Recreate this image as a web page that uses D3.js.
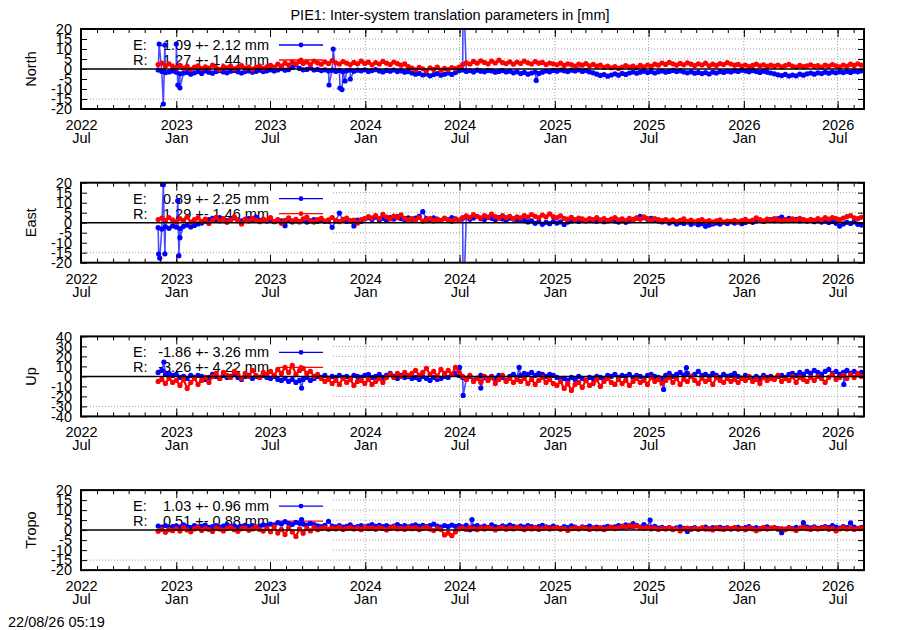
<!DOCTYPE html>
<html>
<head>
<meta charset="utf-8">
<script src="https://cdn.jsdelivr.net/npm/d3@7"></script>
<style>
body { margin: 0; background: #fff; }
svg { font-family: "Liberation Sans", Arial, sans-serif; font-size: 14.5px; }
</style>
</head>
<body>
<div id="chart"></div>
<script>
// weekly samples starting on this day
var weekStart = '2022-11-27';

var panelNames = ['North', 'East', 'Up', 'Tropo'];
var yLimits = [20, 20, 40, 20];
var yStep = [5, 5, 10, 5];

// legend statistics
var eMean = [-1.09, 0.89, -1.86, 1.03];
var eStd = [2.12, 2.25, 3.26, 0.96];
var rMean = [1.27, 1.29, -3.26, 0.51];
var rStd = [1.44, 1.46, 4.22, 0.88];

var northE = [-0.5,-1.2,-1.8,-1.5,-1.0,-1.6,-2.4,-2.0,-1.7,-2.6,
-1.9,-1.3,-2.2,-1.0,-1.6,-2.1,-1.2,-0.8,-1.5,-1.9,
-1.1,-0.7,-1.4,-2.0,-1.3,-0.9,-1.6,-1.2,-0.6,-1.3,
-0.9,-0.4,-1.0,-0.5,0.2,-0.6,-0.3,0.8,2.0,0.3,
-0.4,-0.2,0.4,-0.5,-0.2,-0.8,-0.4,-1.0,-0.6,-1.2,
-0.7,-1.4,-0.9,-0.5,-1.1,-0.6,-0.9,-0.4,-1.2,-0.8,
-0.3,-1.0,-1.5,-0.7,-1.1,-0.5,-1.3,-0.9,-1.6,-1.2,
-2.0,-2.6,-2.2,-3.0,-2.5,-3.4,-2.8,-2.3,-3.1,-2.6,
-2.0,-2.7,-1.8,-0.9,-0.5,-1.2,-0.8,-1.5,-0.6,-1.1,
-1.4,-0.7,-1.0,-1.6,-1.2,-0.8,-1.5,-1.1,-1.9,-1.4,
-2.3,-1.7,-2.6,-2.0,-1.5,-2.2,-1.6,-1.0,-1.4,-0.7,
-1.1,-0.5,-0.9,-1.3,-0.6,-1.0,-0.4,-1.2,-0.8,-1.5,
-1.9,-2.6,-3.2,-2.8,-3.6,-3.0,-2.4,-3.1,-2.2,-2.7,
-2.0,-1.5,-2.1,-1.6,-1.1,-1.8,-1.3,-2.0,-1.4,-1.0,
-1.6,-1.2,-0.7,-1.3,-0.9,-1.5,-1.9,-1.4,-2.1,-1.7,
-2.3,-1.8,-2.5,-1.6,-2.0,-1.3,-1.7,-1.1,-1.5,-0.9,
-1.2,-0.6,-1.0,-1.4,-0.8,-1.3,-1.7,-1.1,-1.6,-2.0,
-2.4,-2.9,-3.3,-2.7,-3.5,-3.0,-3.4,-2.6,-3.1,-2.4,
-2.0,-2.6,-1.9,-2.3,-1.6,-2.1,-1.5,-1.9,-1.4,-1.8,
-1.3,-1.7,-1.1,-1.4,-1.0];

var northR = [2.2,3.0,1.5,2.6,1.2,0.6,1.8,0.4,1.3,-0.2,
0.9,1.6,0.2,1.1,0.5,1.9,0.7,-0.3,1.2,0.6,
1.5,0.1,0.9,1.7,0.4,1.0,-0.1,0.8,1.4,0.3,
1.1,1.8,1.0,2.4,1.5,2.9,2.0,3.4,2.6,3.8,
2.8,3.5,2.2,3.9,3.0,2.4,3.6,2.7,4.2,3.1,
2.5,3.7,2.9,2.2,3.3,2.6,3.9,2.8,3.4,2.1,
3.2,2.5,3.8,2.9,2.2,3.5,2.7,1.9,2.6,1.2,
0.5,-0.4,0.8,0.1,-0.9,0.6,-0.2,0.9,-0.6,0.3,
-0.3,0.7,0.2,1.0,2.2,3.1,2.5,3.8,2.9,4.1,
3.3,2.6,3.9,3.0,4.4,3.2,2.7,3.6,2.4,3.5,
2.8,3.9,3.1,2.5,3.7,2.9,3.3,2.2,3.0,2.6,
2.1,2.9,1.8,2.6,2.2,1.5,2.4,1.9,2.7,1.6,
2.3,1.4,1.9,0.8,1.5,0.6,1.2,0.3,1.0,1.7,
0.9,1.4,0.7,1.8,1.1,2.0,1.3,2.4,1.9,3.0,
2.3,3.3,2.6,1.9,2.8,2.1,3.1,2.4,1.7,2.6,
2.0,2.9,1.6,2.4,1.8,2.7,2.2,3.2,2.5,1.9,
2.3,1.5,2.0,1.2,1.8,2.4,1.6,2.1,1.3,1.9,
1.4,2.0,1.1,1.7,2.3,1.5,1.0,1.8,1.2,1.6,
2.1,1.3,1.7,1.0,1.9,1.4,2.2,1.6,1.1,2.0,
1.5,2.4,1.8,2.6,1.9];

var eastE = [-2.5,-3.2,-2.0,-2.8,-1.6,-2.2,-2.9,-1.8,-1.2,-2.1,
-1.4,-0.6,-0.2,0.8,1.5,2.2,1.4,2.6,1.9,1.1,
1.8,2.4,1.3,0.9,1.7,2.1,1.5,2.8,1.2,1.6,
0.8,1.3,0.5,1.1,0.9,-1.5,1.4,0.4,1.0,0.6,
1.2,0.3,0.9,1.5,0.7,1.1,0.6,0.8,-2.3,0.9,
4.8,1.2,0.6,0.9,-1.6,1.3,0.7,1.9,2.5,1.6,
2.8,1.4,2.2,1.1,2.6,1.8,3.0,2.0,1.5,2.4,
1.7,2.3,3.2,5.5,2.0,1.5,2.4,1.8,1.2,2.1,
1.6,2.5,1.9,1.3,2.2,2.9,1.7,2.4,3.1,2.0,
1.6,2.7,2.2,1.5,2.5,1.9,1.4,2.3,1.8,1.2,
1.7,1.0,0.4,0.9,-0.3,0.5,-0.8,0.2,-0.5,0.6,
-0.2,0.4,-0.9,0.3,0.8,1.2,0.6,1.4,0.9,1.5,
1.0,0.7,1.3,0.5,1.1,1.6,0.8,0.3,1.0,0.2,
0.9,1.4,2.3,3.2,2.5,1.7,2.2,1.3,0.8,0.4,
0.9,-0.2,0.5,-0.6,0.1,-0.4,0.3,-0.8,-0.2,-1.0,
-0.5,-1.8,-1.2,-0.6,-0.1,-0.7,0.2,-0.4,0.5,-0.2,
0.3,-0.5,0.1,0.7,0.2,0.8,1.3,0.6,1.1,1.6,
1.0,2.0,2.8,1.5,2.2,1.2,1.7,0.9,1.4,0.8,
1.2,0.5,1.0,0.3,0.8,0.1,0.6,-0.3,-1.7,-0.6,
0.2,-0.4,0.4,-0.8,-1.2];

var eastR = [1.6,2.3,0.9,2.6,1.2,0.4,2.0,1.1,2.8,0.3,
1.5,2.4,0.7,1.8,-0.4,1.3,2.7,0.8,1.9,0.2,
1.4,2.9,1.0,-0.6,1.7,0.9,2.2,1.3,0.5,1.8,
1.1,2.5,0.6,1.6,-0.3,1.2,2.4,0.9,1.7,0.4,
1.9,2.8,1.0,0.3,1.5,2.2,0.8,1.4,2.6,1.1,
0.5,1.7,2.3,0.9,1.3,-0.2,1.6,2.1,3.0,2.4,
3.6,2.1,4.2,2.8,1.9,3.3,2.5,3.9,2.2,1.6,
2.0,1.2,2.6,0.8,1.5,2.1,0.9,1.7,1.1,2.3,
1.4,0.7,1.8,1.2,2.5,3.4,2.7,4.0,3.1,2.4,
3.5,2.8,4.3,3.0,2.2,3.6,2.6,3.2,2.0,2.9,
2.4,3.5,2.8,4.1,3.2,2.5,3.8,2.9,4.4,3.0,
2.6,3.4,2.2,1.8,2.7,1.5,2.3,1.9,1.2,2.1,
1.6,2.5,1.3,2.0,0.9,1.8,2.6,1.4,1.9,1.1,
2.2,1.5,2.4,1.7,2.9,2.0,1.3,2.1,1.6,1.0,
1.5,0.8,1.4,0.5,1.2,1.9,0.7,1.3,0.4,1.1,
1.6,0.6,1.0,0.3,0.9,1.4,0.2,0.8,0.5,1.2,
0.4,1.0,1.7,0.6,1.3,2.4,1.5,0.9,1.8,1.2,
2.0,1.4,0.8,1.6,1.1,1.9,1.3,2.2,1.5,0.9,
1.7,1.2,2.0,1.4,2.5,1.8,2.6,2.1,1.5,2.3,
3.0,3.6,2.4,2.0,2.7];

var upE = [4,6,2,3,1,2,-1,0,-2,1,
-1,1,0,-3,-1,2,0,-2,1,-1,
0,2,-1,-3,0,1,-2,0,-1,1,
-1,-2,0,-3,-4,-2,-5,-3,-6,-4,
-3,-1,-4,-2,0,-1,1,-2,0,-1,
1,-1,0,-2,1,0,-1,1,2,-1,
0,2,-1,1,3,0,-2,1,-1,0,
-2,-1,-3,0,-2,-4,-1,-3,-2,0,
-1,2,3,1,-1,-3,0,-4,-2,1,
-1,-3,0,-2,1,-1,-4,0,2,-1,
1,3,2,4,1,3,2,0,2,1,
-1,-3,-2,-4,-1,-3,0,-2,-4,-1,
-2,0,-1,-3,1,0,2,-1,1,0,
2,-1,1,0,-2,1,2,0,-1,-3,
1,3,0,2,4,1,3,0,2,5,
1,2,0,3,1,-1,2,0,1,3,
0,-2,1,-1,-3,0,-2,1,-1,0,
-2,0,1,-1,2,3,1,4,2,5,
3,6,4,2,5,7,3,5,2,4,
6,3,5,2,4];

var upR = [-5,-3,-7,-2,-6,-4,-9,-3,-12,-6,
-2,-8,-4,-1,-6,0,3,-2,4,1,
-1,5,2,-2,3,0,6,1,-1,4,
2,5,1,7,3,9,4,11,2,6,
8,3,5,0,2,-2,-5,-3,-7,-4,
-8,-2,-6,-3,-9,-5,-4,-7,-3,-8,
-5,-2,-6,-1,2,-1,3,0,4,1,
3,6,1,4,8,2,5,0,7,3,
6,2,9,4,0,-3,1,-5,-2,-6,
0,-4,-1,-7,-3,1,-5,-2,-6,-3,
-5,-2,-7,-3,-8,-4,-1,-6,-3,-7,
-9,-5,-12,-7,-14,-8,-6,-11,-4,-9,
-7,-3,-10,-5,-2,-6,-8,-3,-7,-4,
-9,-5,-2,-6,-4,-8,-1,-5,-3,-7,
-4,-1,-6,-2,-8,-3,-5,0,-4,-7,
-2,-5,-3,-8,-1,-4,-6,-2,-5,-3,
-6,-2,-4,0,-5,-3,-7,-1,-4,-2,
-3,1,-5,-2,-4,0,-6,-1,-3,-5,
-1,-4,0,-2,-6,-1,2,-3,-1,1,
-2,2,-1,3,0];

var tropoE = [2.0,1.5,2.3,1.2,1.8,2.1,1.4,2.6,1.7,1.3,
2.2,1.6,1.9,2.5,1.4,1.8,2.3,1.5,2.0,2.7,
1.6,2.1,1.3,1.9,2.4,1.7,2.2,1.5,2.0,2.6,
2.3,3.0,2.6,3.7,3.1,4.2,3.3,2.8,3.9,3.4,
3.0,2.5,3.4,2.7,2.1,1.8,2.4,4.4,2.0,1.6,
2.2,1.5,1.9,2.6,1.4,1.8,2.3,1.6,2.1,2.7,
1.9,2.4,1.7,2.2,1.5,2.0,2.8,1.8,2.3,1.6,
2.1,2.6,1.9,2.4,1.7,2.2,3.0,2.0,1.5,2.3,
1.8,2.5,1.9,2.2,1.6,2.4,0.2,1.7,2.3,1.5,
2.0,1.4,2.6,1.8,1.2,2.1,1.6,2.5,1.9,1.3,
2.0,1.5,2.3,1.7,1.1,1.8,2.4,1.6,1.2,2.0,
1.4,0.9,1.7,1.2,2.1,1.5,0.8,1.6,1.3,2.0,
1.1,1.5,0.7,1.4,1.9,1.2,1.6,2.2,1.3,2.6,
1.8,3.2,2.4,1.5,2.8,1.6,1.2,1.9,1.0,1.4,
0.8,1.3,0.6,1.1,1.6,0.9,-0.7,0.7,1.2,0.5,
1.0,1.5,0.6,1.2,0.8,1.4,0.9,1.3,0.5,1.1,
1.4,0.8,1.2,1.7,0.9,1.3,0.6,1.1,1.6,1.0,
1.3,0.7,-1.3,0.5,1.2,0.8,1.4,1.0,3.7,1.5,
1.1,1.6,0.9,1.3,1.8,1.2,2.3,1.5,1.0,1.7,
1.2,3.6,1.5,0.9,1.4];

var tropoR = [-0.6,0.4,-1.1,0.2,-0.3,0.8,-0.5,1.2,0.1,-0.8,
0.6,1.3,-0.2,0.9,0.3,-0.7,1.1,0.5,-0.4,0.8,
1.4,0.2,-0.6,0.7,1.0,-0.1,0.6,1.5,0.3,-0.5,
0.9,-0.8,1.6,-1.5,0.4,-2.2,1.2,-0.9,-3.2,0.6,
-1.6,1.0,-0.4,1.4,0.2,0.8,1.3,0.4,1.1,0.6,
1.5,0.3,0.9,1.2,0.5,1.0,0.2,1.4,0.7,1.1,
0.4,1.3,0.8,0.1,1.0,1.6,0.6,0.9,0.3,1.2,
0.7,1.1,0.2,0.9,1.4,0.5,-0.2,0.8,0.3,-2.4,
-1.5,-2.8,-0.9,0.6,1.0,0.3,1.2,0.7,0.2,1.1,
0.5,1.4,0.8,0.1,0.9,1.3,0.4,1.0,0.6,1.5,
0.9,0.2,1.1,0.6,1.4,0.3,0.8,1.2,0.5,0.9,
1.3,0.4,0.9,-0.2,0.7,1.1,0.5,1.4,0.8,0.3,
1.0,0.6,1.3,0.2,0.9,1.5,0.7,1.1,2.0,1.4,
2.4,1.6,2.1,1.2,0.8,1.5,0.6,1.0,0.3,0.9,
0.5,1.2,0.2,0.8,-0.4,0.6,1.0,0.3,0.9,0.4,
1.1,0.5,0.8,0.1,1.2,0.6,0.3,1.0,0.7,1.3,
0.4,0.9,0.2,1.1,0.6,-0.3,0.8,1.2,0.5,0.9,
1.3,0.4,0.8,0.2,1.0,0.6,-0.2,0.9,1.4,0.7,
0.3,1.1,0.5,0.8,1.3,0.4,0.9,-0.4,0.6,1.2,
0.5,1.0,0.3,0.8,1.1];

// single-day outliers of the E series, [date, value]
var northEOut = [['2022-11-29',12.5],['2022-12-07',-17.5],['2022-12-10',12],['2023-01-01',12.5],
  ['2023-01-04',-8],['2023-01-08',-9.4],['2023-10-23',-8],['2023-10-31',10],['2023-11-13',-9.5],
  ['2023-11-17',-10.3],['2023-11-23',-6],['2023-12-03',-5],['2024-07-08',45],['2024-11-26',-5.7]];
var eastEOut = [['2022-11-28',-15.7],['2022-11-30',-17.7],['2022-12-07',19],['2022-12-10',-15.6],
  ['2023-01-04',11],['2023-01-06',-16.5],['2023-01-08',-7.5],['2024-07-08',-45]];
var upEOut = [['2022-12-08',14.4],['2023-08-31',-11.7],['2024-07-01',9],['2024-07-08',-19],
  ['2024-08-11',-11.7],['2024-10-24',9],['2025-07-30',-13],['2025-09-12',8.7],['2026-07-13',-8]];
var tropoEOut = [['2023-08-31',5.3],['2024-07-25',5.3],['2025-07-04',5]];

var seriesE = [northE, eastE, upE, tropoE];
var seriesR = [northR, eastR, upR, tropoR];
var outliersE = [northEOut, eastEOut, upEOut, tropoEOut];

var chart_width = 900;
var chart_height = 630;
var parseDay = d3.utcParse('%Y-%m-%d');
var start = parseDay(weekStart);

var svg = d3.select('#chart')
  .append('svg')
  .attr('width', chart_width)
  .attr('height', chart_height);

var x_scale = d3.scaleUtc()
  .domain([parseDay('2022-07-01'), parseDay('2026-08-21')])
  .range([81, 864]);

var majors = d3.utcMonth.every(6).range(x_scale.domain()[0], x_scale.domain()[1]);
var minors = d3.utcMonth.range(x_scale.domain()[0], x_scale.domain()[1]);
// plain hyphen minus, like the original
var fmt = function(v) { return v.toFixed(2); };

function weekly(vals) {
  return vals.map(function(v, i) { return [d3.utcDay.offset(start, 7 * i), v]; });
}

// title + time stamp
svg.append('text')
  .attr('x', chart_width / 2).attr('y', 20)
  .attr('text-anchor', 'middle')
  .text('PIE1: Inter-system translation parameters in [mm]');
svg.append('text')
  .attr('x', 8).attr('y', 627)
  .text('22/08/26 05:19');

panelNames.forEach(function(name, p) {
  var top = 29 + p * 153.7;
  var bottom = top + 80;
  var left = 81, right = 864;
  var lim = yLimits[p];
  var y_scale = d3.scaleLinear().domain([-lim, lim]).range([bottom, top]);
  var yTicks = d3.range(-lim, lim + 0.001, yStep[p]);
  var keyRight = 332;
  var g = svg.append('g');

  svg.append('clipPath').attr('id', 'clip' + p)
    .append('rect')
    .attr('x', left).attr('y', top)
    .attr('width', right - left).attr('height', bottom - top);

  // grid
  g.append('g').selectAll('line')
    .data(yTicks.filter(function(v) { return v > -lim && v < lim && v !== 0; }))
    .enter().append('line')
    .attr('x1', left).attr('x2', right)
    .attr('y1', function(d) { return y_scale(d); })
    .attr('y2', function(d) { return y_scale(d); })
    .attr('stroke', '#a0a0a0').attr('stroke-dasharray', '1,2');
  g.append('g').selectAll('line')
    .data(majors.filter(function(d) { return x_scale(d) > keyRight; }))
    .enter().append('line')
    .attr('x1', function(d) { return x_scale(d); })
    .attr('x2', function(d) { return x_scale(d); })
    .attr('y1', top).attr('y2', bottom)
    .attr('stroke', '#a0a0a0').attr('stroke-dasharray', '1,2');

  // opaque key box
  g.append('rect')
    .attr('x', left + 1).attr('y', top + 1)
    .attr('width', keyRight - left - 1).attr('height', 63)
    .attr('fill', '#fff');

  // key
  var keyRows = [
    {lab: 'E:', txt: fmt(eMean[p]) + ' +- ' + fmt(eStd[p]) + ' mm', col: '#0000ff', dy: 16},
    {lab: 'R:', txt: fmt(rMean[p]) + ' +- ' + fmt(rStd[p]) + ' mm', col: '#ff0000', dy: 31}
  ];
  keyRows.forEach(function(k) {
    var yy = top + k.dy;
    g.append('text').attr('x', 133).attr('y', yy + 5).text(k.lab);
    g.append('text').attr('x', 269).attr('y', yy + 5).attr('text-anchor', 'end').text(k.txt);
    g.append('line').attr('x1', 279).attr('x2', 323).attr('y1', yy).attr('y2', yy)
      .attr('stroke', k.col).attr('stroke-width', 1.3);
    g.append('circle').attr('cx', 301).attr('cy', yy).attr('r', 2.4).attr('fill', k.col);
  });

  // data
  var eData = weekly(seriesE[p]).concat(outliersE[p].map(function(d) { return [parseDay(d[0]), d[1]]; }))
    .sort(function(a, b) { return a[0] - b[0]; });
  var rData = weekly(seriesR[p]);
  var line = d3.line()
    .x(function(d) { return x_scale(d[0]); })
    .y(function(d) { return y_scale(d[1]); });

  var plot = g.append('g').attr('clip-path', 'url(#clip' + p + ')');
  [[eData, '#0000ff', 0.7, 1.6], [rData, '#ff0000', 1, 2.2]].forEach(function(s) {
    plot.append('path').datum(s[0])
      .attr('d', line)
      .attr('fill', 'none')
      .attr('stroke', s[1])
      .attr('stroke-opacity', s[2])
      .attr('stroke-width', s[3]);
    plot.append('g').selectAll('circle')
      .data(s[0])
      .enter().append('circle')
      .attr('cx', function(d) { return x_scale(d[0]); })
      .attr('cy', function(d) { return y_scale(d[1]); })
      .attr('r', 2.6)
      .attr('fill', s[1]);
  });

  // zero line
  g.append('line')
    .attr('x1', left).attr('x2', right)
    .attr('y1', y_scale(0)).attr('y2', y_scale(0))
    .attr('stroke', '#000').attr('stroke-width', 1.5);

  // axes, ticks pointing inward
  var xb = g.append('g').attr('transform', 'translate(0,' + bottom + ')')
    .call(d3.axisBottom(x_scale).tickValues(majors).tickSizeInner(-8).tickSizeOuter(0)
      .tickFormat(d3.utcFormat('%Y')));
  xb.attr('font-size', null).attr('font-family', null);
  xb.select('.domain').remove();
  xb.selectAll('text')
    .attr('y', 21).attr('dy', null).attr('fill', '#000')
    .each(function(d) {
      d3.select(this).append('tspan').attr('x', 0).attr('y', 34).text(d3.utcFormat('%b')(d));
    });
  g.append('g').attr('transform', 'translate(0,' + bottom + ')')
    .call(d3.axisBottom(x_scale).tickValues(minors).tickSizeInner(-4).tickSizeOuter(0).tickFormat(''))
    .select('.domain').remove();
  g.append('g').attr('transform', 'translate(0,' + top + ')')
    .call(d3.axisTop(x_scale).tickValues(majors).tickSizeInner(-8).tickSizeOuter(0).tickFormat(''))
    .select('.domain').remove();
  g.append('g').attr('transform', 'translate(0,' + top + ')')
    .call(d3.axisTop(x_scale).tickValues(minors).tickSizeInner(-4).tickSizeOuter(0).tickFormat(''))
    .select('.domain').remove();

  var yl = g.append('g').attr('transform', 'translate(' + left + ',0)')
    .call(d3.axisLeft(y_scale).tickValues(yTicks).tickSizeInner(-6).tickSizeOuter(0).tickPadding(9)
      .tickFormat(function(d) { return String(d); }));
  yl.attr('font-size', null).attr('font-family', null);
  yl.select('.domain').remove();
  yl.selectAll('text').attr('fill', '#000');
  g.append('g').attr('transform', 'translate(' + right + ',0)')
    .call(d3.axisRight(y_scale).tickValues(yTicks).tickSizeInner(-6).tickSizeOuter(0).tickFormat(''))
    .select('.domain').remove();

  // border
  g.append('rect')
    .attr('x', left).attr('y', top)
    .attr('width', right - left).attr('height', bottom - top)
    .attr('fill', 'none').attr('stroke', '#000').attr('stroke-width', 2);

  // panel label
  g.append('text')
    .attr('transform', 'translate(36,' + (top + 40) + ') rotate(-90)')
    .attr('text-anchor', 'middle')
    .text(name);
});
</script>
</body>
</html>
